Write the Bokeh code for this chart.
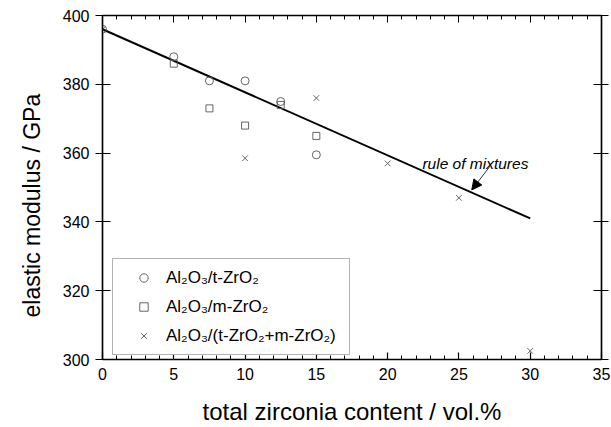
from bokeh.plotting import figure
from bokeh.models import (LinearAxis, SingleIntervalTicker, Legend, LegendItem,
                          Label, Arrow, NormalHead, Range1d, Title)
from bokeh.embed import file_html
from bokeh.resources import INLINE

# ---- data ----
t_x = [0, 5, 7.5, 10, 12.5, 15]
t_y = [396, 388, 381, 381, 375, 359.5]
m_x = [5, 7.5, 10, 12.5, 15]
m_y = [386, 373, 368, 374, 365]
tm_x = [0, 10, 15, 20, 25, 30]
tm_y = [396, 358.5, 376, 357, 347, 302.5]
rom_x = [0, 30]
rom_y = [396, 341]

labels = ["Al\u2082O\u2083/t-ZrO\u2082",
          "Al\u2082O\u2083/m-ZrO\u2082",
          "Al\u2082O\u2083/(t-ZrO\u2082+m-ZrO\u2082)"]
x_title = "total zirconia content / vol.%"
y_title = "elastic modulus / GPa"

FONT = "Liberation Sans"

p = figure(width=611, height=427, output_backend="svg", toolbar_location=None,
           x_range=Range1d(0, 35), y_range=Range1d(300, 400),
           min_border_left=102, min_border_right=10, min_border_top=15,
           min_border_bottom=68, background_fill_color="white",
           border_fill_color="white")
p.frame_width = 499
p.frame_height = 344
p.grid.visible = False
p.outline_line_color = "black"
p.outline_line_width = 1.2

xa = p.xaxis[0]
xa.ticker = SingleIntervalTicker(interval=5, num_minor_ticks=5)
xa.axis_label = x_title
ya = p.yaxis[0]
ya.ticker = SingleIntervalTicker(interval=20, num_minor_ticks=2)

for ax in (xa, ya):
    ax.axis_line_color = "black"
    ax.axis_line_width = 1.5
    ax.major_tick_line_color = "black"
    ax.major_tick_line_width = 1.2
    ax.minor_tick_line_color = "black"
    ax.major_label_text_font = FONT
    ax.major_label_text_font_size = "16px"
    ax.major_label_text_color = "black"
    ax.axis_label_text_font = FONT
    ax.axis_label_text_font_style = "normal"
    ax.axis_label_text_color = "black"

xa.axis_label_text_font_size = "24px"

xa.major_tick_in = 7
xa.major_tick_out = 0
xa.minor_tick_in = 4
xa.minor_tick_out = 0
xa.major_label_standoff = 8
xa.axis_label_standoff = 15

ya.major_tick_in = 8
ya.major_tick_out = 7
ya.minor_tick_line_color = None
ya.major_label_standoff = 6

# y title as a side title so it can be shifted like the reference
ytitle = Title(text=y_title, align="left", offset=42, standoff=30,
               text_font=FONT, text_font_size="23px", text_font_style="normal",
               text_color="black")
p.add_layout(ytitle, "left")

# top / right frame axes (no labels)
top = LinearAxis(ticker=SingleIntervalTicker(interval=5, num_minor_ticks=5),
                 major_tick_in=7, major_tick_out=0, minor_tick_in=4, minor_tick_out=0,
                 major_label_text_color=None, major_label_standoff=0,
                 axis_line_color="black", axis_line_width=1.5,
                 major_tick_line_color="black", minor_tick_line_color="black")
p.add_layout(top, "above")
right = LinearAxis(ticker=SingleIntervalTicker(interval=20, num_minor_ticks=2),
                   major_tick_in=8, major_tick_out=7, minor_tick_line_color=None,
                   major_label_text_color=None, major_label_standoff=0,
                   axis_line_color="black", axis_line_width=1.5,
                   major_tick_line_color="black")
p.add_layout(right, "right")

# rule of mixtures line
p.line(rom_x, rom_y, line_color="black", line_width=2)

MC = "#555555"
r1 = p.scatter(t_x, t_y, marker="circle", size=8, fill_color=None,
               line_color=MC, line_width=0.9)
r2 = p.scatter(m_x, m_y, marker="square", size=7, fill_color=None,
               line_color=MC, line_width=0.9)
r3 = p.scatter(tm_x, tm_y, marker="x", size=8, line_color=MC, line_width=0.9)

legend = Legend(items=[LegendItem(label=labels[0], renderers=[r1]),
                       LegendItem(label=labels[1], renderers=[r2]),
                       LegendItem(label=labels[2], renderers=[r3])],
                location=(10, 4), orientation="vertical",
                border_line_color="#666666", border_line_width=1,
                background_fill_color="white", background_fill_alpha=1,
                label_text_font=FONT, label_text_font_size="17px",
                label_text_color="black",
                glyph_width=45, glyph_height=21, label_height=21,
                label_width=175,
                spacing=8, padding=8, margin=0, label_standoff=0)
p.add_layout(legend, "center")

p.add_layout(Label(x=22.44, y=357.0, text="rule of mixtures", text_font=FONT,
                   text_font_size="15.5px", text_font_style="italic",
                   text_color="black", text_baseline="alphabetic"))
p.add_layout(Arrow(end=NormalHead(size=10, fill_color="black", line_color="black"),
                   x_start=27.2, y_start=356.3, x_end=25.9, y_end=349.3,
                   line_color="#333333", line_width=1))

open("out.html", "w").write(file_html(p, INLINE))
